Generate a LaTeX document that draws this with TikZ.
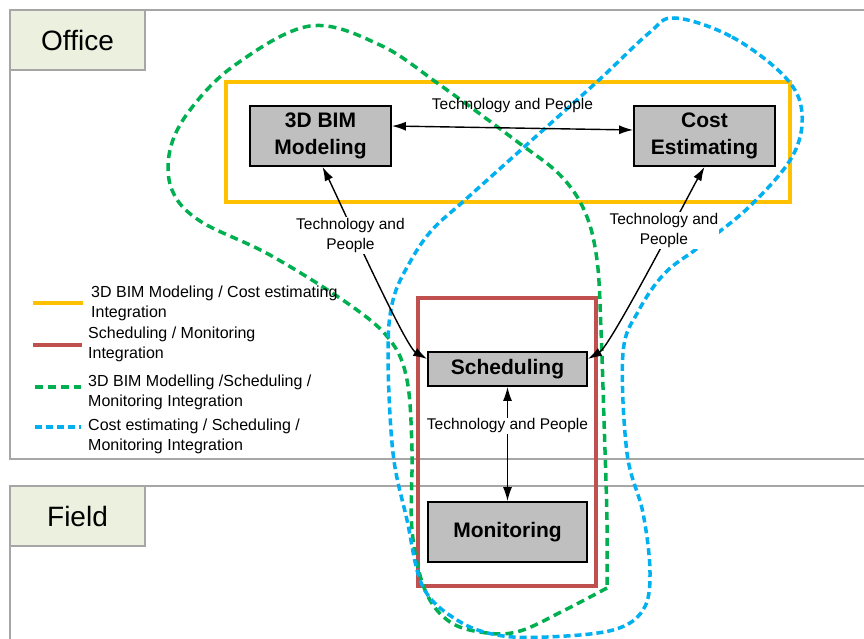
\documentclass[tikz,border=0pt]{standalone}
\usepackage{fontspec}
\setmainfont{Liberation Sans}
\usetikzlibrary{positioning}
\usetikzlibrary{arrows.meta}
\definecolor{framegray}{HTML}{A6A6A6}
\definecolor{lanegreen}{HTML}{EBF1DE}
\definecolor{boxgray}{HTML}{BFBFBF}
\definecolor{officeyellow}{HTML}{FFC000}
\definecolor{fieldred}{HTML}{C0504D}
\definecolor{loopgreen}{HTML}{00B050}
\definecolor{loopblue}{HTML}{00B0F0}
\tikzset{
    laneframe/.style = {draw=framegray, line width=2pt},
    lanelabel/.style = {rectangle, draw=framegray, line width=2pt, fill=lanegreen, minimum width=135pt, minimum height=60pt, font=\fontsize{28}{30}\selectfont},
    procbox/.style = {rectangle, draw=black, line width=1.8pt, fill=boxgray, minimum width=141pt, minimum height=60pt, inner sep=0pt, align=center, font=\bfseries\fontsize{21}{27}\selectfont},
    edgen/.style = {{Latex[length=14pt,width=9pt]}-{Latex[length=14pt,width=9pt]}, line width=1.4pt},
    linklabel/.style = {fill=white, inner sep=1pt, align=center, font=\fontsize{15.5}{20}\selectfont},
    legendtext/.style = {anchor=west, align=left, inner sep=0pt, font=\fontsize{16}{20}\selectfont},
    yellowbox/.style = {draw=officeyellow, line width=3.5pt},
    redbox/.style = {draw=fieldred, line width=3.5pt},
    greenloop/.style = {draw=loopgreen, line width=3.5pt, dash pattern=on 8pt off 5pt}, % bim / scheduling / monitoring
    blueloop/.style = {draw=loopblue, line width=3.5pt, dash pattern=on 7pt off 4pt}, % cost / scheduling / monitoring
}

\begin{document}
\begin{tikzpicture}[x=1pt, y=-1pt]
  \useasboundingbox (0,0) rectangle (864,639);

  % lanes
  \draw[laneframe] (864,10) -| (10,459) -- (864,459);
  \draw[laneframe] (864,486) -| (10,639);
  \node[lanelabel] (office) at (77.5,40) {Office};
  \node[lanelabel] (field) at (77.5,516) {Field};

  % integration groups
  \draw[yellowbox] (226,82) rectangle (790,202);
  \draw[redbox] (418,298) rectangle (596,586);

  \draw[greenloop] plot[smooth, tension=0.6] coordinates {
    (607,588) (563,611) (520,631) (487,633) (450,622) (425,590) (412,530)
    (412,450) (407,380) (390,340) (350,305) (270,255) (200,221) (172,190)
    (170,150) (190,110) (235,65) (310,26) (380,45) (440,85) (515,140)
    (560,175) (585,212) (597,260) (601,330) (604,420) (607,520) (607,588)};
  \draw[blueloop] plot[smooth cycle, tension=0.6] coordinates {
    (675,18) (732,37) (785,77) (802,113) (792,157) (749,207) (699,247)
    (665,273) (639,310) (623,353) (627,453) (643,513) (650,573) (643,610)
    (613,630) (547,637) (497,635) (457,620) (423,587) (407,520) (393,453)
    (388,353) (393,300) (410,262) (432,230) (465,200) (532,140) (599,80)
    (649,33)};

  % processes
  \node[procbox] (bim) at (320.5,136) {3D BIM\\Modeling};
  \node[procbox] (cost) at (704.5,136) {Cost\\Estimating};
  \node[procbox, minimum width=159pt, minimum height=34pt] (sched) at (507.5,369) {Scheduling};
  \node[procbox, minimum width=159pt] (monit) at (507.5,532) {Monitoring};

  % links
  \draw[edgen] ([yshift=10pt]bim.east) -- node[midway, yshift=23pt, font=\fontsize{15.5}{20}\selectfont] {Technology and People} ([yshift=6pt]cost.west);
  \draw[edgen] ([xshift=2pt]bim.south) to[out=-63, in=150, looseness=0.3] node[linklabel, pos=0.38, xshift=-5pt] {Technology and\\People} ([yshift=10pt]sched.west);
  \draw[edgen] (cost.south) to[out=-120, in=30, looseness=0.3] node[linklabel, pos=0.36, xshift=-6pt] {Technology and\\People} ([yshift=10pt]sched.east);
  \draw[edgen] (sched) -- node[linklabel, pos=0.34] {Technology and People} (monit);

  % legend
  \draw[yellowbox] (33,303) -- (83,303);
  \node[legendtext] (legbim) at (91,303) {3D BIM Modeling / Cost estimating\\Integration};
  \draw[redbox] (33,345) -- (82,345);
  \node[legendtext] (legsched) at (88,344) {Scheduling / Monitoring\\Integration};
  \draw[greenloop] (35,387) -- (81,387);
  \node[legendtext] (leggreen) at (88,392) {3D BIM Modelling /Scheduling /\\Monitoring Integration};
  \draw[blueloop] (35,427) -- (81,427);
  \node[legendtext] (legblue) at (88,436) {Cost estimating / Scheduling /\\Monitoring Integration};
\end{tikzpicture}
\end{document}
